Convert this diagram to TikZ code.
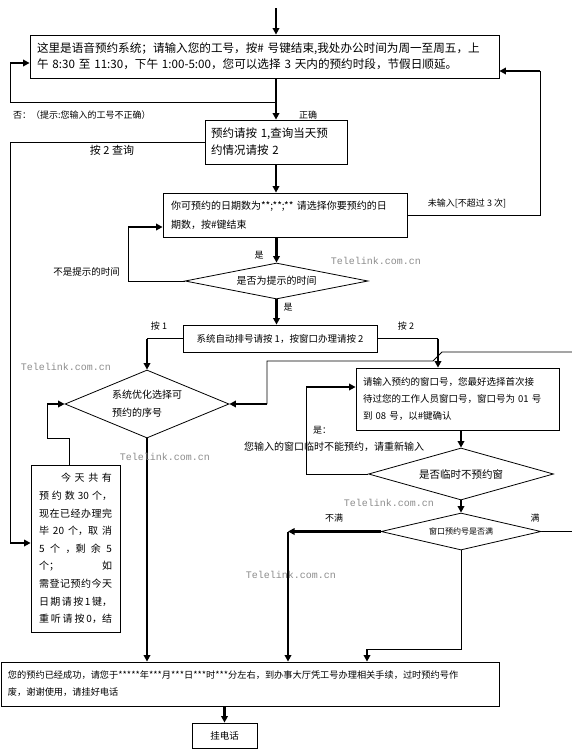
\documentclass[tikz,border=0pt]{standalone}
\usepackage{fontspec}
\setmainfont{Noto Sans CJK SC}
\newfontfamily\wmfont{Liberation Mono}
\usetikzlibrary{shapes.geometric,arrows.meta}
\tikzstyle{box}=[draw=black,line width=0.8pt,inner sep=0pt,align=left]
\tikzstyle{dia}=[diamond,draw=black,line width=0.8pt,inner sep=0pt,align=left]
\tikzstyle{ln}=[line width=0.8pt]
\tikzstyle{ar}=[line width=2.4pt,-{Triangle[length=6.5pt,width=6.5pt]}]
\tikzstyle{lbl}=[inner sep=0pt,font=\fontsize{9}{11}\selectfont]
\tikzstyle{wm}=[inner sep=0pt,text=black!45,font=\wmfont\fontsize{10}{12}\selectfont]
\newcommand{\jl}[1]{\makebox[73pt]{#1}}

\begin{document}
\begin{tikzpicture}[x=1pt,y=-1pt]
\useasboundingbox (0,0) rectangle (571,750);
\node[box,minimum width=469pt,minimum height=43pt,text width=455pt,font=\fontsize{11.6}{16}\selectfont] (welcome) at (264.5,56.5) {这里是语音预约系统；请输入您的工号，按\# 号键结束,我处办公时间为周一至周五，上\\午 8:30 至 11:30，下午 1:00-5:00，您可以选择 3 天内的预约时段，节假日顺延。};
\node[box,minimum width=142pt,minimum height=44pt,text width=130pt,font=\fontsize{11.5}{17}\selectfont] (menu) at (276,142) {预约请按 1,查询当天预\\约情况请按 2};
\node[box,minimum width=244pt,minimum height=44pt,text width=228pt,font=\fontsize{10}{19}\selectfont] (days) at (285,215) {你可预约的日期数为**;**;**~请选择你要预约的日\\期数，按\#键结束};
\node[dia,minimum width=183pt,minimum height=36pt,aspect=5,font=\fontsize{10}{12}\selectfont] (isTime) at (276.5,281) {是否为提示的时间};
\node[box,minimum width=194pt,minimum height=27pt,align=center,font=\fontsize{9.5}{11}\selectfont] (mode) at (280,338.5) {系统自动排号请按 1，按窗口办理请按 2};
\node[dia,minimum width=164pt,minimum height=68pt,aspect=2.4,font=\fontsize{10}{18}\selectfont] (optim) at (147,404) {系统优化选择可\\预约的序号};
\node[box,minimum width=89pt,minimum height=167pt,text width=73pt,font=\fontsize{10}{17.6}\selectfont] (today) at (75.5,548.5) {\jl{\hspace*{22pt}今\hfill 天\hfill 共\hfill 有}\\\jl{预\hfill 约\hfill 数\hfill 30\hfill 个，}\\\jl{现\hfill 在\hfill 已\hfill 经\hfill 办\hfill 理\hfill 完}\\\jl{毕\hfill 20\hfill 个，取\hfill 消}\\\jl{5\hfill 个\hfill ，剩\hfill 余\hfill 5}\\\jl{个；\hfill 如}\\\jl{需\hfill 登\hfill 记\hfill 预\hfill 约\hfill 今\hfill 天}\\\jl{日\hfill 期\hfill 请\hfill 按\hfill 1\hfill 键，}\\\jl{重\hfill 听\hfill 请\hfill 按\hfill 0，结}};
\node[box,minimum width=203pt,minimum height=62pt,text width=189pt,font=\fontsize{9.5}{17}\selectfont] (winIn) at (457.5,399) {请输入预约的窗口号，您最好选择首次接\\待过您的工作人员窗口号，窗口号为~01~号\\到 08 号，以\#键确认};
\node[dia,minimum width=185pt,minimum height=52pt,aspect=3.5,font=\fontsize{10.5}{12}\selectfont] (isClosed) at (461,474) {是否临时不预约窗};
\node[dia,minimum width=160pt,minimum height=37pt,aspect=4.3,font=\fontsize{8}{10}\selectfont] (isFull) at (461,531.5) {窗口预约号是否满};
\node[box,minimum width=498pt,minimum height=44pt,text width=484pt,font=\fontsize{9.2}{17}\selectfont] (done) at (250,684) {您的预约已经成功，请您于*****年***月***日***时***分左右，到办事大厅凭工号办理相关手续，过时预约号作\\废，谢谢使用，请挂好电话};
\node[box,minimum width=65pt,minimum height=25pt,align=center,font=\fontsize{9.5}{11}\selectfont] (hangup) at (224.5,735.5) {挂电话};

\coordinate (start) at (276,8);
\coordinate (rtA) at (276,102);
\coordinate (rtB) at (10,63);
\coordinate (qB) at (10,543);
\coordinate (nB) at (540,71);
\coordinate (tB) at (128,227);
\coordinate (m2) at (438,338.5);
\coordinate (fA) at (575,531.5);
\coordinate (fB) at (575,352);
\coordinate (fC) at (442,352);
\coordinate (fD) at (433,361);
\coordinate (fE) at (267,404);
\coordinate (dA) at (69,465);
\coordinate (dB) at (47,438);
\coordinate (dC) at (47,404);
\coordinate (wA) at (306,387);
\coordinate (kA) at (288,531.5);
\coordinate (kB) at (367,649);

\draw[ar] (start) -- (start |- welcome.north);
\draw[ar] (welcome.south -| menu) -- (menu.north);
\draw[ln] (rtA) -| (rtB);
\draw[ar] (rtB) -- (rtB -| welcome.west);
\draw[ln] (menu.west) -| (qB);
\draw[ar] (qB) -- (qB -| today.west);
\draw[ar] (menu.south) -- (days.north -| menu);
\draw[ln] (days.east) -| (nB);
\draw[ar] (nB) -- (nB -| welcome.east);
\draw[ar] (days.south -| isTime) -- (isTime.north);
\draw[ln] (isTime.west) -| (tB);
\draw[ar] (tB) -- (tB -| days.west);
\draw[ar] (isTime.south) -- (mode.north -| isTime);
\draw[ln] (mode.west) -- (mode.west -| optim);
\draw[ar] (mode.west -| optim) -- (optim.north);
\draw[ln] (mode.east) -- (m2);
\draw[ar] (m2) -- (m2 |- winIn.north);
\draw[ln] (isFull.east) -- (fA) -- (fB) -- (fC) -- (fD) -| (fE);
\draw[ar] (fE) -- (optim.east);
\draw[ln] (dA) |- (dB) -- (dC);
\draw[ar] (dC) -- (optim.west);
\draw[ar] (optim.south) -- (optim.south |- done.north);
\draw[ln] (isClosed.west) -| (wA);
\draw[ar] (wA) -- (wA -| winIn.west);
\draw[ar] (winIn.south -| isClosed) -- (isClosed.north);
\draw[ar] (isClosed.south) -- (isFull.north);
\draw[ar] (isFull.west) -- (kA);
\draw[ar] (kA) -- (kA |- done.north);
\draw[ln] (isFull.south) |- (kB);
\draw[ar] (kB) -- (kB |- done.north);
\draw[ar] (done.south -| hangup) -- (hangup.north);

\node[lbl,anchor=west] (noLbl) at (13,115) {否：（提示:您输入的工号不正确）};
\node[lbl] (okLbl) at (308,115) {正确};
\node[lbl,font=\fontsize{11}{13}\selectfont] (qLbl) at (112,150) {按 2 查询};
\node[lbl] (noneLbl) at (467,203) {未输入[不超过 3 次]};
\node[lbl] (y1Lbl) at (259,255) {是};
\node[lbl,font=\fontsize{9.5}{11}\selectfont] (notLbl) at (86.5,272) {不是提示的时间};
\node[lbl] (y2Lbl) at (288,307) {是};
\node[lbl] (k1Lbl) at (159,326) {按 1};
\node[lbl] (k2Lbl) at (406,326) {按 2};
\node[lbl,anchor=west] (yLbl) at (313,430) {是：};
\node[lbl,anchor=west,font=\fontsize{10}{12}\selectfont] (reLbl) at (244,447) {您输入的窗口临时不能预约，请重新输入};
\node[lbl] (nfLbl) at (334,518) {不满};
\node[lbl] (fLbl) at (535,518) {满};
\node[wm] (wm1) at (376,261) {Telelink.com.cn};
\node[wm] (wm2) at (66,367) {Telelink.com.cn};
\node[wm] (wm3) at (165,457) {Telelink.com.cn};
\node[wm] (wm4) at (389,503) {Telelink.com.cn};
\node[wm] (wm5) at (291,575) {Telelink.com.cn};
\end{tikzpicture}
\end{document}
